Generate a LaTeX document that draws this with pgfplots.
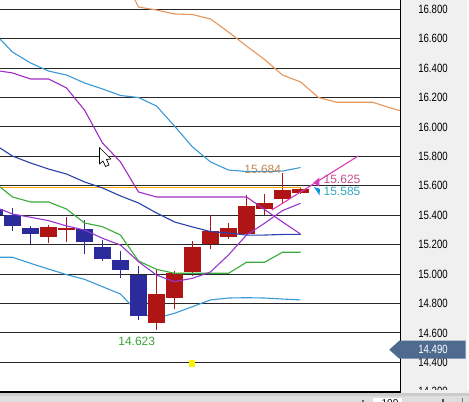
\documentclass[border=0pt]{standalone}
\usepackage{pgfplots}
\usepackage{pgfplotstable}
\usepackage{fontspec}
\pgfplotsset{compat=1.18}
\setmainfont{Liberation Sans}
\newfontfamily\axisfont[FakeStretch=0.8]{Liberation Sans}
\definecolor{pan}{HTML}{F0F0F0}
\definecolor{candR}{HTML}{B01516}
\definecolor{candB}{HTML}{2B2B9C}
\definecolor{cOrange}{HTML}{E6965A}
\definecolor{cLB}{HTML}{3A9AD6}
\definecolor{cPur}{HTML}{A02EC4}
\definecolor{cDB}{HTML}{2A42AC}
\definecolor{cGr}{HTML}{38AC38}
\definecolor{cPur2}{HTML}{9638CE}
\definecolor{cPink}{HTML}{D83CB8}
\definecolor{tag}{HTML}{4F6A8F}
\definecolor{tOrange}{HTML}{C08A50}
\definecolor{tPink}{HTML}{C0508A}
\definecolor{tCyan}{HTML}{30A8C0}
\definecolor{tGreen}{HTML}{3AA53A}
\pgfplotstableread{
x low blow bhigh high
-5.5 15.354 15.399 15.440 15.449
12.5 15.295 15.329 15.399 15.449
30.5 15.204 15.270 15.311 15.327
84.5 15.136 15.216 15.304 15.367
102.5 15.089 15.104 15.182 15.231
120.5 14.975 15.025 15.093 15.157
138.5 14.688 14.713 14.996 15.055
}\blueCandles
\pgfplotstableread{
x low blow bhigh high
48.5 15.213 15.254 15.318 15.333
66.5 15.218 15.301 15.313 15.390
156.5 14.620 14.669 14.862 15.032
174.5 14.760 14.835 15.009 15.021
192.5 14.987 15.016 15.182 15.225
210.5 15.172 15.202 15.293 15.399
228.5 15.240 15.254 15.311 15.349
246.5 15.265 15.274 15.463 15.535
264.5 15.401 15.444 15.481 15.544
282.5 15.483 15.512 15.569 15.684
300.5 15.544 15.549 15.580 15.585
}\redCandles
\pgfplotstableread{
x y
132 16.904
135 16.863
138.5 16.815
156.5 16.795
174.5 16.768
192.5 16.764
210.5 16.734
228.5 16.645
246.5 16.550
264.5 16.459
282.5 16.353
300.5 16.306
318.5 16.200
336.5 16.168
354.5 16.168
372.5 16.168
390.5 16.129
400.5 16.110
}\orangeLine
\pgfplotstableread{
x y
0 16.598
12.5 16.509
30.5 16.435
48.5 16.380
66.5 16.353
84.5 16.299
102.5 16.258
120.5 16.214
138.5 16.200
156.5 16.142
174.5 16.006
192.5 15.864
210.5 15.762
228.5 15.707
246.5 15.697
264.5 15.697
282.5 15.700
300.5 15.724
}\lbUpper
\pgfplotstableread{
x y
0 16.380
12.5 16.367
30.5 16.326
48.5 16.326
66.5 16.265
84.5 16.115
102.5 15.891
120.5 15.762
138.5 15.558
156.5 15.524
174.5 15.524
192.5 15.524
210.5 15.524
228.5 15.524
246.5 15.524
264.5 15.439
282.5 15.354
300.5 15.272
}\purUpper
\pgfplotstableread{
x y
0 15.857
12.5 15.802
30.5 15.755
48.5 15.714
66.5 15.680
84.5 15.626
102.5 15.585
120.5 15.531
138.5 15.483
156.5 15.415
174.5 15.354
192.5 15.320
210.5 15.289
228.5 15.279
246.5 15.265
264.5 15.265
282.5 15.269
300.5 15.270
}\dbLine
\pgfplotstableread{
x y
0 15.592
12.5 15.524
30.5 15.490
48.5 15.490
66.5 15.442
84.5 15.347
102.5 15.322
120.5 15.265
138.5 15.089
156.5 15.032
174.5 15.005
192.5 15.005
210.5 15.005
228.5 15.005
246.5 15.080
264.5 15.080
282.5 15.148
300.5 15.148
}\grLine
\pgfplotstableread{
x y
0 15.442
12.5 15.408
30.5 15.386
48.5 15.363
66.5 15.327
84.5 15.299
102.5 15.243
120.5 15.197
138.5 15.084
156.5 14.993
174.5 14.948
192.5 14.971
210.5 15.014
228.5 15.130
246.5 15.265
264.5 15.345
282.5 15.431
300.5 15.481
}\purLower
\pgfplotstableread{
x y
0 15.114
12.5 15.114
30.5 15.073
48.5 15.034
66.5 14.996
84.5 14.964
102.5 14.914
120.5 14.864
138.5 14.735
156.5 14.701
174.5 14.733
192.5 14.778
210.5 14.824
228.5 14.837
246.5 14.839
264.5 14.837
282.5 14.830
300.5 14.824
}\lbLower
\newcommand{\candles}[2]{%
  \addplot[draw=none, mark=none, forget plot, error bars/.cd, y dir=plus, y explicit, error mark=none,
    error bar style={line width=1.1pt, color=#2}]
    table[x=x, y=low, y error plus expr=\thisrow{high}-\thisrow{low}] {#1};
  \addplot[draw=none, mark=none, forget plot, error bars/.cd, y dir=plus, y explicit, error mark=none,
    error bar style={line width=16.5pt, color=#2}]
    table[x=x, y=blow, y error plus expr=\thisrow{bhigh}-\thisrow{blow}] {#1};
}
\begin{document}
\begin{tikzpicture}[x=1pt,y=1pt]
\fill[white] (0,0) rectangle (469,402);
\fill[pan] (400,0) rectangle (469,402);
\fill[white!90!pan] (467,10) rectangle (469,402);
\begin{axis}[
  at={(0pt,10pt)}, anchor=south west,
  scale only axis, width=400.5pt, height=392pt,
  xmin=0, xmax=400.5, ymin=14.198, ymax=16.863,
  xtick=\empty,
  ytick={14.2,14.4,14.6,14.8,15.0,15.2,15.4,15.6,15.8,16.0,16.2,16.4,16.6,16.8},
  yticklabel pos=right,
  ymajorgrids,
  major grid style={draw=black!85, line width=1pt},
  major tick length=0pt,
  axis line style={draw=none},
  y tick label style={font=\axisfont\fontsize{12}{14}\selectfont, anchor=center, xshift=32.5pt,
    /pgf/number format/fixed, /pgf/number format/fixed zerofill, /pgf/number format/precision=3,
    /pgf/number format/assume math mode=true},
]
\addplot[color=cLB, line width=1.1pt, mark=none] table[x=x,y=y] {\lbLower};
\candles{\blueCandles}{candB}
\candles{\redCandles}{candR}
\addplot[color=orange!70!yellow, line width=1pt, mark=none] coordinates {(0,15.585) (300.5,15.585)};
\addplot[color=cOrange, line width=1.1pt, mark=none] table[x=x,y=y] {\orangeLine};
\addplot[color=cLB, line width=1.1pt, mark=none] table[x=x,y=y] {\lbUpper};
\addplot[color=cPur, line width=1.1pt, mark=none] table[x=x,y=y] {\purUpper};
\addplot[color=cDB, line width=1.1pt, mark=none] table[x=x,y=y] {\dbLine};
\addplot[color=cGr, line width=1.1pt, mark=none] table[x=x,y=y] {\grLine};
\addplot[color=cPur2, line width=1.1pt, mark=none] table[x=x,y=y] {\purLower};
\addplot[color=cPink, line width=1.1pt, mark=none] coordinates {(271.7,15.435) (358.3,15.803)};
\addplot[only marks, mark=square*, mark size=2.8pt, color=yellow] coordinates {(191.7,14.392)};
\end{axis}
% frame
\draw[black, line width=1.4pt] (0,9.8) -- (400.5,9.8) -- (400.5,402);
% bottom strip
\fill[black!20] (0,0) rectangle (469,9);
\fill[black!13] (0,0) rectangle (469,5.5);
\fill[pan] (402,9) rectangle (469,12);
\fill[white] (373,0) rectangle (402,4);
\draw[black!55] (462,0) -- (462,4);
\fill[black!70] (441.5,0) rectangle (444,3);
\fill[black!60] (362,0) rectangle (364,2);
\node[font=\fontsize{10}{12}\selectfont] at (390,-1) {100};
% value tag
\fill[tag] (389.3,52.3) -- (399.3,61.3) -- (465.7,61.3) -- (465.7,43.3) -- (399.3,43.3) -- cycle;
\node[text=white, font=\axisfont\fontsize{12}{14}\selectfont] at (433,52.3) {14.490};
% labels
\node[text=tOrange, font=\fontsize{12}{14}\selectfont] at (262.7,232.7) {15.684};
\node[text=tPink, font=\fontsize{12}{14}\selectfont] at (342,223) {15.625};
\node[text=tCyan, font=\fontsize{12}{14}\selectfont] at (342,210.3) {15.585};
\node[text=tGreen, font=\fontsize{12}{14}\selectfont] at (136.7,61) {14.623};
% arrows
\fill[cPink] (313.3,219.3) -- (319.3,224.3) -- (319.3,215.3) -- cycle;
\fill[cyan!80!blue] (314,215) -- (320,213) -- (319.5,206.7) -- cycle;
% cursor
\draw[black, fill=white, line width=0.7pt, line join=round] (99.5,254.5) -- (99.5,238) -- (103,241) -- (105.5,235.5) -- (109,237) -- (106.5,242.5) -- (111,243) -- cycle;
\pgfresetboundingbox
\useasboundingbox (0,0) rectangle (469,402);
\end{tikzpicture}
\end{document}
